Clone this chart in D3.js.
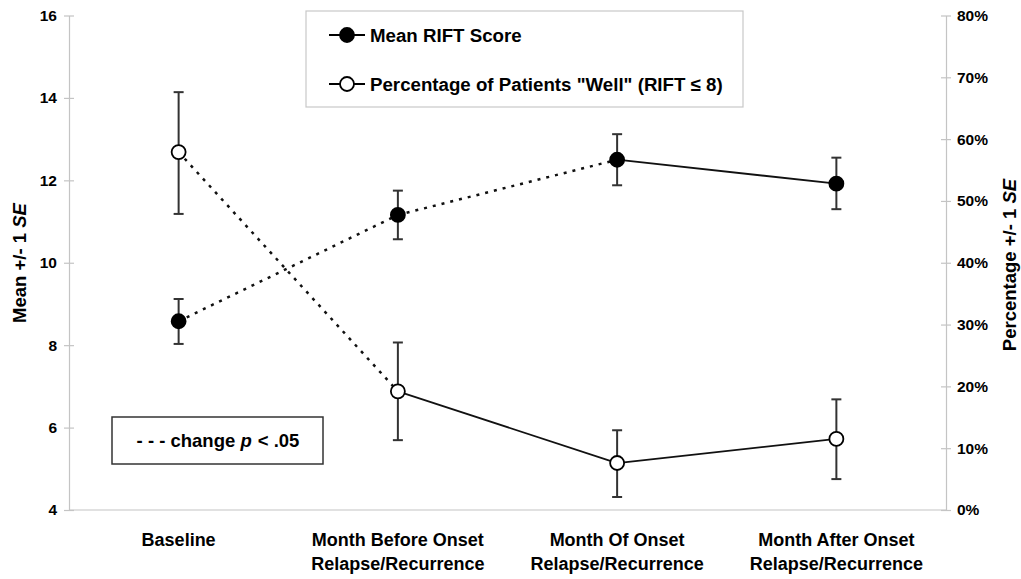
<!DOCTYPE html>
<html>
<head>
<meta charset="utf-8">
<script src="https://cdn.jsdelivr.net/npm/d3@7"></script>
<style>
	body { margin: 0; background: #fff; }
	text { font-family: "Liberation Sans", Arial, sans-serif; font-weight: bold; fill: #000; }
</style>
</head>
<body>
<svg id="chart" width="1021" height="579"></svg>
<script>
// Data
var categories = [
	["Baseline"],
	["Month Before Onset", "Relapse/Recurrence"],
	["Month Of Onset", "Relapse/Recurrence"],
	["Month After Onset", "Relapse/Recurrence"]
];
var meanScore =   [8.58, 11.16, 12.5, 11.92];
var meanLow =     [8.03, 10.57, 11.88, 11.3];
var meanHigh =    [9.12, 11.75, 13.12, 12.55];
var meanDotted =  [true, true, false];

var pctWell =     [57.9, 19.2, 7.6, 11.5];
var pctLow =      [47.9, 11.3, 2.1, 5.0];
var pctHigh =     [67.6, 27.1, 12.9, 17.9];
var pctDotted =   [true, false, false];

var leftTicks =  [4, 6, 8, 10, 12, 14, 16];
var rightTicks = [0, 10, 20, 30, 40, 50, 60, 70, 80];

// Layout
var plot = { left: 69, right: 946, top: 15.5, bottom: 510 };
var svg = d3.select("#chart");

var x = d3.scaleBand().domain(d3.range(categories.length)).range([plot.left, plot.right]);
var cx = function(i) { return x(i) + x.bandwidth() / 2; };
var yL = d3.scaleLinear().domain([4, 16]).range([plot.bottom, plot.top]);
var yR = d3.scaleLinear().domain([0, 80]).range([plot.bottom, plot.top]);

// Axes
var axisColor = "#c4c4c4";
function styleAxis(g) {
	g.select(".domain").attr("stroke", axisColor).attr("stroke-width", 1.2);
	g.selectAll(".tick line").attr("stroke", axisColor).attr("stroke-width", 1.2);
	g.selectAll(".tick text").style("font-size", "15.5px").style("font-family", "Liberation Sans, Arial, sans-serif").style("font-weight", "bold").attr("fill", "#000");
}

svg.append("g")
	.attr("transform", "translate(" + plot.left + ",0)")
	.call(d3.axisLeft(yL).tickValues(leftTicks).tickSize(5).tickSizeOuter(0).tickPadding(7))
	.call(styleAxis)
	.selectAll(".tick line").attr("x2", 5).attr("x1", -5);

svg.append("g")
	.attr("transform", "translate(" + plot.right + ",0)")
	.call(d3.axisRight(yR).tickValues(rightTicks).tickFormat(function(d) { return d + "%"; }).tickSize(5).tickSizeOuter(0).tickPadding(6))
	.call(styleAxis)
	.selectAll(".tick line").attr("x1", -5).attr("x2", 5);

svg.append("line")
	.attr("x1", plot.left).attr("x2", plot.right)
	.attr("y1", plot.bottom).attr("y2", plot.bottom)
	.attr("stroke", axisColor).attr("stroke-width", 1.2);

// Category labels
categories.forEach(function(lines, i) {
	var t = svg.append("text").attr("text-anchor", "middle").style("font-size", "18px");
	lines.forEach(function(s, k) {
		t.append("tspan").attr("x", cx(i)).attr("y", 546 + k * 24).text(s);
	});
});

// Axis titles
svg.append("text")
	.attr("transform", "translate(26,263) rotate(-90)")
	.attr("text-anchor", "middle").style("font-size", "18.5px")
	.call(function(t) {
		t.append("tspan").text("Mean +/- 1 ");
		t.append("tspan").style("font-style", "italic").text("SE");
	});
svg.append("text")
	.attr("transform", "translate(1016,265) rotate(-90)")
	.attr("text-anchor", "middle").style("font-size", "18.5px")
	.call(function(t) {
		t.append("tspan").text("Percentage +/- 1 ");
		t.append("tspan").style("font-style", "italic").text("SE");
	});

// Series painter
function drawSeries(values, low, high, dotted, scale, fill) {
	var g = svg.append("g");
	// error bars
	values.forEach(function(v, i) {
		var px = cx(i);
		g.append("line").attr("x1", px).attr("x2", px).attr("y1", scale(low[i])).attr("y2", scale(high[i]))
			.attr("stroke", "#333").attr("stroke-width", 2);
		[low[i], high[i]].forEach(function(e) {
			g.append("line").attr("x1", px - 5).attr("x2", px + 5).attr("y1", scale(e)).attr("y2", scale(e))
				.attr("stroke", "#333").attr("stroke-width", 2);
		});
	});
	// segments
	dotted.forEach(function(d, i) {
		g.append("line")
			.attr("x1", cx(i)).attr("y1", scale(values[i]))
			.attr("x2", cx(i + 1)).attr("y2", scale(values[i + 1]))
			.attr("stroke", "#111").attr("stroke-width", d ? 2.5 : 1.8)
			.attr("stroke-dasharray", d ? "3,6" : null);
	});
	// markers
	values.forEach(function(v, i) {
		g.append("circle").attr("cx", cx(i)).attr("cy", scale(v)).attr("r", 7)
			.attr("fill", fill).attr("stroke", "#000").attr("stroke-width", 1.8);
	});
}

drawSeries(pctWell, pctLow, pctHigh, pctDotted, yR, "#fff");
drawSeries(meanScore, meanLow, meanHigh, meanDotted, yL, "#000");

// Legend
var legend = svg.append("g");
legend.append("rect").attr("x", 306).attr("y", 11).attr("width", 437).attr("height", 96)
	.attr("fill", "#fff").attr("stroke", "#c8c8c8").attr("stroke-width", 1.2);
var legendItems = [
	{ label: "Mean RIFT Score", fill: "#000", y: 35 },
	{ label: "Percentage of Patients \"Well\" (RIFT \u2264 8)", fill: "#fff", y: 84 }
];
legendItems.forEach(function(item) {
	legend.append("line").attr("x1", 329).attr("x2", 365).attr("y1", item.y).attr("y2", item.y)
		.attr("stroke", "#000").attr("stroke-width", 1.8);
	legend.append("circle").attr("cx", 347).attr("cy", item.y).attr("r", 7)
		.attr("fill", item.fill).attr("stroke", "#000").attr("stroke-width", 1.8);
	legend.append("text").attr("x", 370).attr("y", item.y + 7).style("font-size", "18.7px").text(item.label);
});

// Note box
svg.append("rect").attr("x", 112).attr("y", 417).attr("width", 211).attr("height", 47)
	.attr("fill", "#fff").attr("stroke", "#333").attr("stroke-width", 1.5);
svg.append("text").attr("x", 218).attr("y", 447).attr("text-anchor", "middle").style("font-size", "18.5px")
	.attr("xml:space", "preserve")
	.call(function(t) {
		t.append("tspan").text("- - - change ");
		t.append("tspan").style("font-style", "italic").text("p");
		t.append("tspan").attr("dx", 6).text("< .05");
	});
</script>
</body>
</html>
